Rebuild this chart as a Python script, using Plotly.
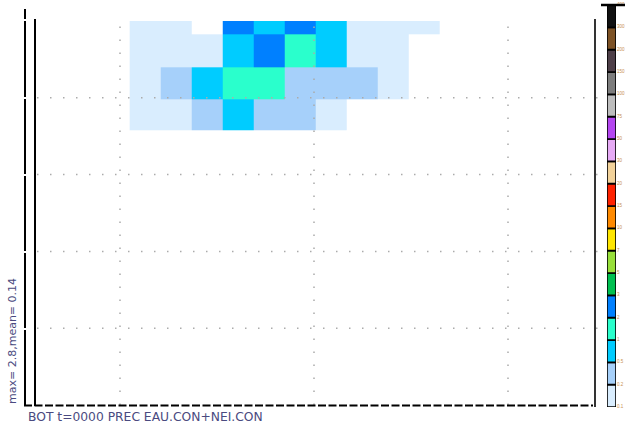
import numpy as np
import plotly.graph_objects as go

W, H = 626, 426

# ---- grid geometry (longitude-like x, latitude-like y) ----
x_edges = [-9.5, -7.9, -6.3, -4.7, -3.1, -1.5, 0.1, 1.7, 3.3, 4.9, 6.5]
y_edges = [35.8, 39.8, 44.0, 48.3, 52.7]

# ---- precipitation per cell, rows from south to north (None = dry) ----
row_1 = [0.13, 0.16, 0.34, 0.72, 0.41, 0.28, 0.12, None, None, None]
row_2 = [0.14, 0.31, 0.86, 1.42, 1.18, 0.45, 0.38, 0.24, 0.17, None]
row_3 = [0.11, 0.15, 0.19, 0.93, 2.8, 1.63, 0.77, 0.18, 0.12, None]
row_4 = [0.12, 0.14, None, 2.41, 0.95, 2.17, 0.68, 0.16, 0.13, 0.11]

# ---- colour classes ----
level_bounds = [0.1, 0.2, 0.5, 1, 2, 3, 5, 7, 10, 15, 20, 30, 50, 75,
                100, 150, 200, 300, 400]
level_colors = ["#d9edfe", "#a6d0fa", "#00ccff", "#2affcc", "#0080ff",
                "#00c050", "#98e03a", "#ffe600", "#ff8a00", "#ff2200",
                "#f2d29a", "#e6aaf5", "#b446f0", "#bdbdbd", "#7d7d7d",
                "#4e3f48", "#7d5225", "#111111"]

x_grid = [-10, 0, 10]
y_grid = [10, 20, 30, 40]

title_text = "BOT t=0000 PREC EAU.CON+NEI.CON"
stats_text = "max= 2.8,mean= 0.14"

# ---- helpers ----
def px_x(p):
    return p / W

def px_y(p):
    return 1 - p / H

z_raw = np.array([row_1, row_2, row_3, row_4], dtype=float)
z_cls = np.where(np.isnan(z_raw), np.nan,
                 np.digitize(np.nan_to_num(z_raw), level_bounds) - 1)

n_lev = len(level_colors)
cscale = []
for i, c in enumerate(level_colors):
    cscale.append([i / n_lev, c])
    cscale.append([(i + 1) / n_lev, c])

fig = go.Figure()

fig.add_trace(go.Heatmap(
    x=x_edges, y=y_edges, z=z_cls,
    colorscale=cscale, zmin=-0.5, zmax=n_lev - 0.5,
    showscale=False, hoverinfo="skip",
    xaxis="x", yaxis="y",
))

# colour key as stacked boxes
fig.add_trace(go.Bar(
    x=[0] * n_lev, y=[1] * n_lev, base=list(range(n_lev)),
    width=1.0,
    marker=dict(color=level_colors, line=dict(color="#000000", width=1.6)),
    xaxis="x2", yaxis="y2", hoverinfo="skip", showlegend=False,
))

# tiny key labels at the class bounds, squeezed into the right margin
key_top, key_bot = 5, 407
unit = (key_bot - key_top) / n_lev
fig.add_trace(go.Scatter(
    x=[0] * len(level_bounds), y=list(range(len(level_bounds))),
    text=[str(b) for b in level_bounds], mode="text",
    textposition="middle right", cliponaxis=False,
    textfont=dict(family="Liberation Sans", size=4.5, color="#c89050"),
    xaxis="x3", yaxis="y3", hoverinfo="skip", showlegend=False,
))

x_lo = (35 - 314) / 19.4
x_hi = (595 - 314) / 19.4

fig.update_layout(
    width=W, height=H,
    margin=dict(l=0, r=0, t=0, b=0),
    paper_bgcolor="white", plot_bgcolor="white",
    showlegend=False,
    xaxis=dict(domain=[px_x(35), px_x(595)], range=[x_lo, x_hi],
               showgrid=False, zeroline=False, showticklabels=False,
               ticks="", showline=False, fixedrange=True),
    yaxis=dict(domain=[px_y(405), px_y(21)], range=[0, 50],
               showgrid=False, zeroline=False, showticklabels=False,
               ticks="", showline=False, fixedrange=True),
    xaxis2=dict(domain=[px_x(607), px_x(616)], range=[-0.5, 0.5],
                anchor="y2", showgrid=False, zeroline=False,
                showticklabels=False, ticks="", showline=False),
    yaxis2=dict(domain=[px_y(key_bot), px_y(key_top)], range=[0, n_lev],
                anchor="x2", showgrid=False, zeroline=False,
                showticklabels=False, ticks="", showline=False),
    xaxis3=dict(domain=[px_x(617), 1.0], range=[0, 1],
                anchor="y3", showgrid=False, zeroline=False,
                showticklabels=False, ticks="", showline=False),
    yaxis3=dict(domain=[0, 1],
                range=[-(H - key_bot) / unit, n_lev + key_top / unit],
                anchor="x3", showgrid=False, zeroline=False,
                showticklabels=False, ticks="", showline=False),
)

shapes = []
dot = dict(color="#ababab", width=1.5, dash="1.5px,11.5px")
for gx in x_grid:
    shapes.append(dict(type="line", xref="x", yref="paper",
                       x0=gx, x1=gx, y0=px_y(405), y1=px_y(21), line=dot))
for gy in y_grid:
    shapes.append(dict(type="line", xref="paper", yref="y",
                       x0=px_x(37), x1=px_x(606), y0=gy, y1=gy, line=dot))

black = "#000000"
# inner left frame line
shapes.append(dict(type="line", xref="paper", yref="paper",
                   x0=px_x(35), x1=px_x(35), y0=px_y(406), y1=px_y(19),
                   line=dict(color=black, width=2)))
# outer left line, broken at the grid latitudes
for a, b in [(9, 19), (21, 97), (99, 174), (176, 251), (253, 328), (330, 406)]:
    shapes.append(dict(type="line", xref="paper", yref="paper",
                       x0=px_x(25), x1=px_x(25), y0=px_y(b), y1=px_y(a),
                       line=dict(color=black, width=2)))
# dashed bottom line
shapes.append(dict(type="line", xref="paper", yref="paper",
                   x0=px_x(24), x1=px_x(593), y0=px_y(405.5), y1=px_y(405.5),
                   line=dict(color=black, width=2, dash="8px,2.5px")))
# right frame line
shapes.append(dict(type="line", xref="paper", yref="paper",
                   x0=px_x(595), x1=px_x(595), y0=px_y(407), y1=px_y(19),
                   line=dict(color=black, width=1.6)))
# cap above colour key
shapes.append(dict(type="line", xref="paper", yref="paper",
                   x0=px_x(601), x1=px_x(625), y0=px_y(5), y1=px_y(5),
                   line=dict(color=black, width=2.5)))
fig.update_layout(shapes=shapes)

fig.add_annotation(text=title_text, xref="paper", yref="paper",
                   x=px_x(26), y=px_y(417), xanchor="left", yanchor="middle",
                   showarrow=False,
                   font=dict(family="DejaVu Sans", size=12.3, color="#4a4a80"))
fig.add_annotation(text=stats_text, xref="paper", yref="paper",
                   x=px_x(12), y=px_y(341), xanchor="center", yanchor="middle",
                   textangle=-90, showarrow=False,
                   font=dict(family="DejaVu Sans", size=11, color="#4a4a80"))

fig.write_html("out.html")
